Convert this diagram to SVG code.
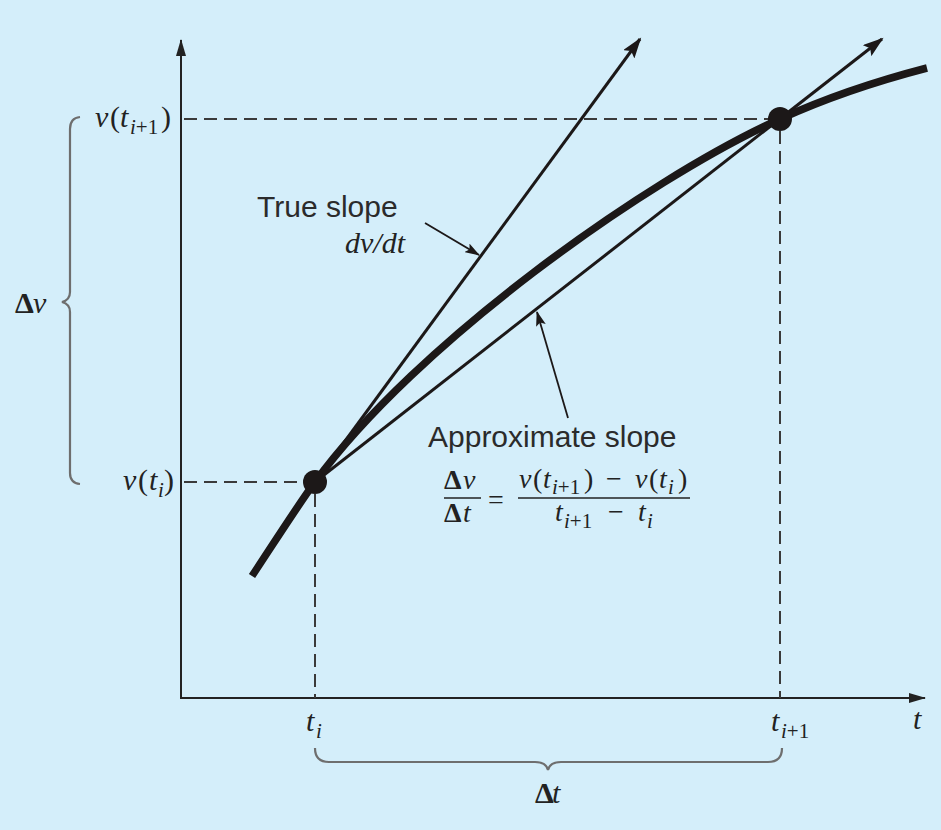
<svg xmlns="http://www.w3.org/2000/svg" width="941" height="830" viewBox="0 0 941 830">
<style>
.m{font-family:"Liberation Serif","Times New Roman",serif;font-style:italic;font-size:30px;fill:#222}
.f{font-family:"Liberation Serif","Times New Roman",serif;font-style:italic;font-size:28px;fill:#222}
.up{font-style:normal}
.bd{font-style:normal;font-weight:bold}
.s{font-family:"Liberation Sans",Arial,sans-serif;font-size:30px;fill:#2b2b2b}
.axis{stroke:#222;stroke-width:2;fill:none}
.dash{stroke:#3a3a3a;stroke-width:2;stroke-dasharray:13 7;fill:none}
.brace{stroke:#6e6e6e;stroke-width:2.2;fill:none}
.thick{stroke:#1c1818;stroke-width:3;fill:none}
.thin{stroke:#1c1818;stroke-width:1.8;fill:none}
.bar{stroke:#222;stroke-width:1.6}
</style>
<defs>
<marker id="ah" markerUnits="userSpaceOnUse" markerWidth="22" markerHeight="14" refX="19" refY="7" orient="auto">
<path d="M0,0 L21,7 L0,14 L4,7 z" fill="#1c1818"/>
</marker>
<marker id="ax" markerUnits="userSpaceOnUse" markerWidth="18" markerHeight="10" refX="16" refY="5" orient="auto">
<path d="M0,0 L17,5 L0,10 z" fill="#222"/>
</marker>
<marker id="ps" markerUnits="userSpaceOnUse" markerWidth="16" markerHeight="10" refX="14" refY="5" orient="auto">
<path d="M0,0 L15,5 L0,10 L3,5 z" fill="#1c1818"/>
</marker>
</defs>
<rect x="0" y="0" width="941" height="830" fill="#d4eefa"/>

<g id="axes">
<line class="axis" x1="181" y1="699" x2="181" y2="40" marker-end="url(#ax)"/>
<line class="axis" x1="180" y1="698" x2="925" y2="698" marker-end="url(#ax)"/>
<text class="m" x="913" y="729">t</text>
</g>

<g id="connectors">
<line class="dash" x1="184" y1="119" x2="770" y2="119"/>
<line class="dash" x1="184" y1="482" x2="305" y2="482"/>
<line class="dash" x1="315" y1="494" x2="315" y2="698"/>
<line class="dash" x1="780" y1="131" x2="780" y2="698"/>
<line class="thick" x1="315" y1="482" x2="640" y2="39" marker-end="url(#ah)"/>
<line class="thick" x1="315" y1="482" x2="882" y2="39" marker-end="url(#ah)"/>
<line class="thin" x1="425" y1="223" x2="479" y2="255" marker-end="url(#ps)"/>
<line class="thin" x1="568" y1="418" x2="537" y2="312" marker-end="url(#ps)"/>
</g>

<g id="curve">
<path d="M252,576 C270,549 300,502 315,482 C415,345 643,181 780,119 C826,98 877,81 927,68" stroke="#1c1818" stroke-width="7.5" fill="none"/>
</g>

<g id="point-ti">
<circle cx="315" cy="482" r="12" fill="#1c1818"/>
</g>
<g id="point-ti1">
<circle cx="780" cy="119" r="12" fill="#1c1818"/>
</g>

<g id="label-vti1">
<text class="m" y="127"><tspan x="95">v</tspan><tspan class="up" x="110">(</tspan><tspan x="120">t</tspan><tspan x="130" y="134" font-size="21">i</tspan><tspan class="up" font-size="21" y="134">+1</tspan><tspan class="up" x="161" y="127">)</tspan></text>
</g>
<g id="label-vti">
<text class="m" y="490"><tspan x="123">v</tspan><tspan class="up" x="138">(</tspan><tspan x="149">t</tspan><tspan x="158" y="497" font-size="21">i</tspan><tspan class="up" x="164" y="490">)</tspan></text>
</g>

<g id="brace-dv">
<path class="brace" d="M80,117 Q70,118 70,129 L70,292 Q70,300 62,302 Q70,304 70,312 L70,473 Q70,483 80,484"/>
<text class="m" x="15" y="313"><tspan class="bd">Δ</tspan><tspan x="33">v</tspan></text>
</g>

<g id="label-ti">
<text class="m" y="731"><tspan x="306">t</tspan><tspan x="316" y="738" font-size="21">i</tspan></text>
</g>
<g id="label-ti1">
<text class="m" y="731"><tspan x="771">t</tspan><tspan x="781" y="738" font-size="21">i</tspan><tspan class="up" font-size="21" y="738">+1</tspan></text>
</g>

<g id="brace-dt">
<path class="brace" d="M315,748 Q315,762 329,762 L535,762 Q546,762 548,770 Q550,762 561,762 L768,762 Q782,762 782,748"/>
<text class="m" x="535" y="803"><tspan class="bd">Δ</tspan><tspan x="552">t</tspan></text>
</g>

<g id="label-true">
<text class="s" x="257" y="217">True slope</text>
<text class="m" x="345" y="253">dv/dt</text>
</g>

<g id="label-approx">
<text class="s" x="428" y="447">Approximate slope</text>
<text class="f" y="489"><tspan class="bd" x="444">Δ</tspan><tspan x="463">v</tspan></text>
<line class="bar" x1="444" y1="498" x2="481" y2="498"/>
<text class="f" y="522"><tspan class="bd" x="444">Δ</tspan><tspan x="463">t</tspan></text>
<text class="f up" x="488" y="509" font-size="34">=</text>
<text class="f" y="488"><tspan x="519">v</tspan><tspan class="up" x="533">(</tspan><tspan x="543">t</tspan><tspan x="552" y="494" font-size="21">i</tspan><tspan class="up" font-size="21" y="494">+1</tspan><tspan class="up" x="584" y="488">)</tspan><tspan class="up" x="606">−</tspan><tspan x="635">v</tspan><tspan class="up" x="649">(</tspan><tspan x="659">t</tspan><tspan x="668" y="494" font-size="21">i</tspan><tspan class="up" x="678" y="488">)</tspan></text>
<line class="bar" x1="518" y1="498" x2="690" y2="498"/>
<text class="f" y="521"><tspan x="555">t</tspan><tspan x="564" y="528" font-size="21">i</tspan><tspan class="up" font-size="21" y="528">+1</tspan><tspan class="up" x="608" y="521">−</tspan><tspan x="638">t</tspan><tspan x="647" y="528" font-size="21">i</tspan></text>
</g>
</svg>
